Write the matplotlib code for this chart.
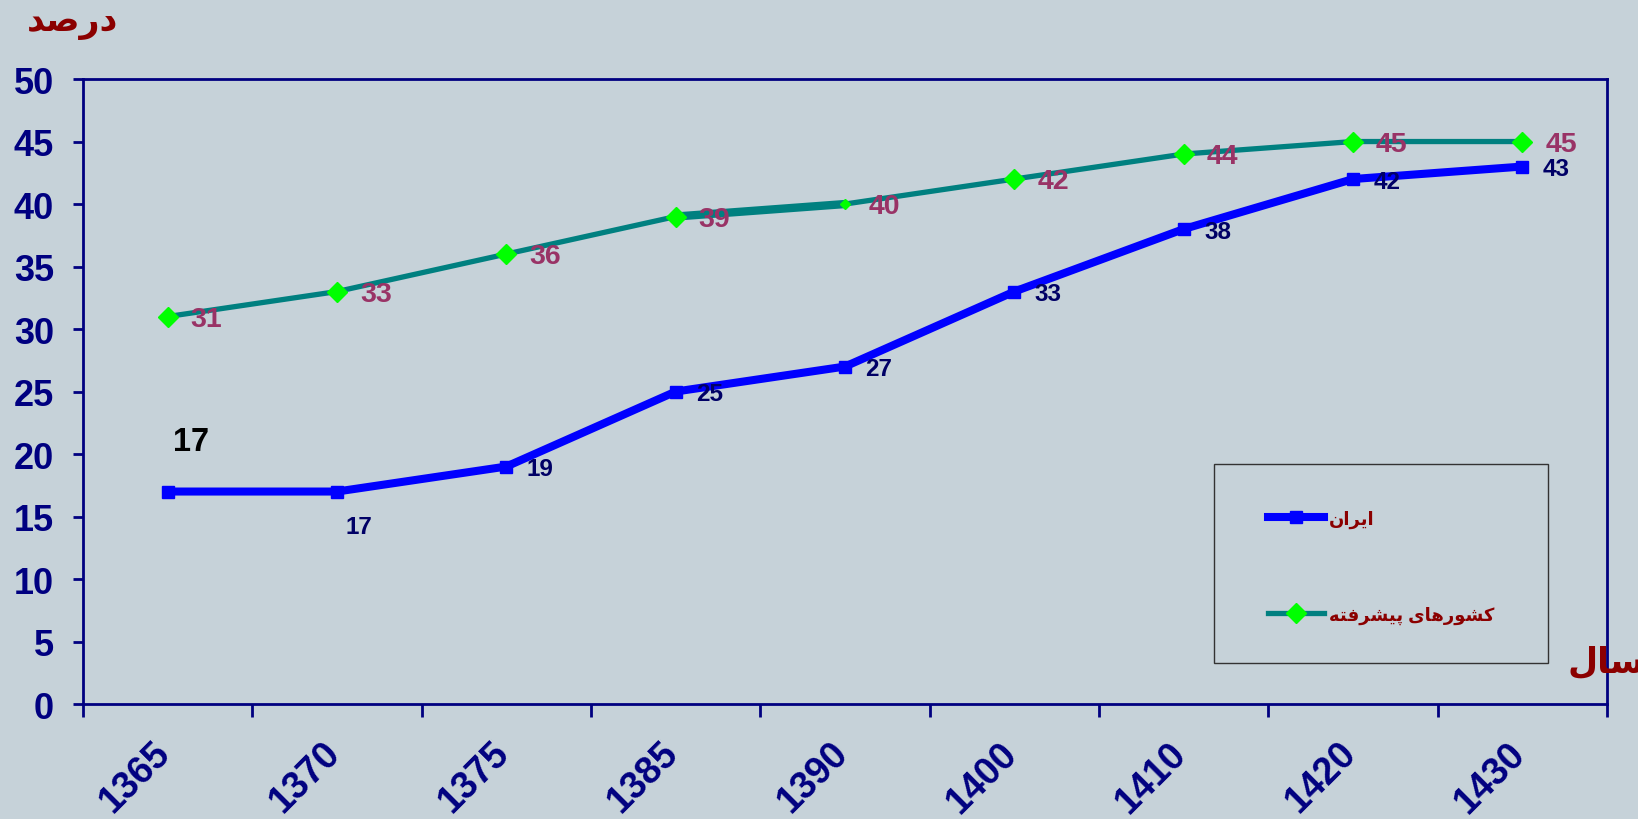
import matplotlib
matplotlib.use('Agg')
import matplotlib.pyplot as plt
import matplotlib.transforms as mtransforms
from matplotlib.patches import Rectangle
import numpy as np

# داده‌ها
years = ['1365', '1370', '1375', '1385', '1390', '1400', '1410', '1420', '1430']
iran = [17, 17, 19, 25, 27, 33, 38, 42, 43]
developed = [31, 33, 36, 39, 40, 42, 44, 45, 45]

# Persian labels written in presentation forms (matplotlib does no Arabic shaping)
label_iran = '\uFEE5\uFE8D\uFEAE\uFEF3\uFE8D'                       # ایران
label_dev = ('\uFEEA\uFE98\uFED3\uFEAE\uFEB8\uFEF4\uFB58 '
             '\uFEEF\uFE8E\uFEEB\uFEAD\uFEEE\uFEB8\uFEDB')           # کشورهای پیشرفته
label_y = '\uFEAA\uFEBB\uFEAD\uFEA9'                                 # درصد
label_x = '\uFEDD\uFE8E\uFEB3'                                       # سال

plt.rcParams['font.family'] = ['Liberation Sans', 'DejaVu Sans']

bg = '#C6D2D9'
navy = '#000080'
darkred = '#8B0000'
plum = '#993366'

fig = plt.figure(figsize=(16.38, 8.2), dpi=100, facecolor=bg)
ax = fig.add_axes([0.0507, 0.1402, 0.9304, 0.7622], facecolor=bg)

x = np.arange(len(years))

# کشورهای پیشرفته
ax.plot(x[3:5], developed[3:5], color='#008080', lw=6, solid_capstyle='round', zorder=2)
dev_line, = ax.plot(x, developed, color='#008080', lw=3.8, marker='D', ms=10,
                    mfc='#00FF00', mec='#00FF00', markevery=[0, 1, 2, 3, 5, 6, 7, 8],
                    label=label_dev, zorder=3)
ax.plot(x[4], developed[4], 'D', ms=5, color='#00FF00', zorder=4)

# ایران
iran_line, = ax.plot(x, iran, color='#0000FF', lw=5.8, marker='s', ms=9,
                     label=label_iran, zorder=3)

# برچسب مقادیر
for i, v in enumerate(developed):
    ax.annotate(str(v), (x[i], v), xytext=(28, -1.5), textcoords='offset points',
                ha='center', va='center', fontsize=20.5, fontweight='bold', color=plum)

for i, v in enumerate(iran):
    if i == 0:
        ax.annotate(str(v), (x[i], v), xytext=(16.5, 36), textcoords='offset points',
                    ha='center', va='center', fontsize=23.5, fontweight='bold', color='black')
    elif i == 1:
        ax.annotate(str(v), (x[i], v), xytext=(16, -25), textcoords='offset points',
                    ha='center', va='center', fontsize=17.5, fontweight='bold', color='#000066')
    else:
        ax.annotate(str(v), (x[i], v), xytext=(24.5, -1.5), textcoords='offset points',
                    ha='center', va='center', fontsize=17.5, fontweight='bold', color='#000066')

# محورها
ax.set_xlim(-0.5, len(years) - 0.5)
ax.set_ylim(0, 50)
ax.set_yticks(np.arange(0, 51, 5))
ax.set_xticks(x)
ax.set_xticklabels(years, rotation=45, ha='right', va='top')
ax.set_xticks(np.arange(-0.5, len(years)), minor=True)
ax.tick_params(axis='x', which='major', length=0, pad=22)
ax.tick_params(axis='x', which='minor', length=9, width=2, color=navy)
ax.tick_params(axis='y', length=7, width=2, color=navy, pad=14)
shift = mtransforms.ScaledTranslation(0.10, 0, fig.dpi_scale_trans)
for lab in ax.get_xticklabels():
    lab.set_fontsize(27)
    lab.set_fontweight('bold')
    lab.set_color(navy)
    lab.set_transform(lab.get_transform() + shift)
for lab in ax.get_yticklabels():
    lab.set_fontsize(26)
    lab.set_fontweight('bold')
    lab.set_color(navy)
for s in ax.spines.values():
    s.set_color(navy)
    s.set_linewidth(2)

# راهنما: کادر جدا رسم می‌شود
ax.add_patch(Rectangle((0.742, 0.0656), 0.219, 0.318, transform=ax.transAxes,
                       fill=False, ec='#333333', lw=1, clip_on=False, zorder=5))
leg = ax.legend(handles=[iran_line, dev_line], loc='center left',
                bbox_to_anchor=(0.7776, 0.220), borderaxespad=0, borderpad=0,
                frameon=False, fontsize=13, labelspacing=4.3, handlelength=3.1,
                handletextpad=0.25)
for t in leg.get_texts():
    t.set_color(darkred)
    t.set_fontweight('bold')

fig.text(73 / 1638, 1 - 23 / 820, label_y, ha='center', va='center',
         fontsize=25, fontweight='bold', color=darkred)
fig.text(1606 / 1638, 1 - 663 / 820, label_x, ha='center', va='center',
         fontsize=25, fontweight='bold', color=darkred)

fig.savefig('out.png', dpi=100, facecolor=bg)
